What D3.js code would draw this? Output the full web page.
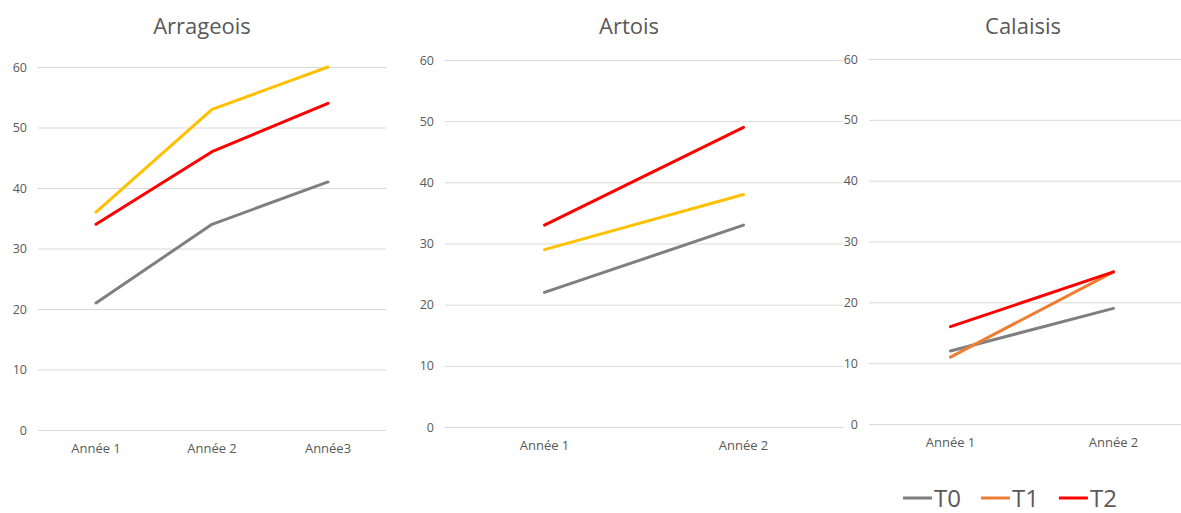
<!DOCTYPE html>
<html>
<head>
<meta charset="utf-8">
<script src="https://cdn.jsdelivr.net/npm/d3@7"></script>
<style>
  html, body { margin: 0; padding: 0; background: #fff; }
  svg { display: block; }
  text { font-family: "Open Sans", "Liberation Sans", sans-serif; }
</style>
</head>
<body>
<svg id="chart" width="1181" height="513"></svg>
<script>
// Values per region and per year
const seriesNames = ["T0", "T1", "T2"];
const yTicks = [0, 10, 20, 30, 40, 50, 60];

const arrageoisCategories = ["Année 1", "Année 2", "Année3"];
const arrageoisT0 = [21, 34, 41];
const arrageoisT1 = [36, 53, 60];
const arrageoisT2 = [34, 46, 54];

const artoisCategories = ["Année 1", "Année 2"];
const artoisT0 = [22, 33];
const artoisT1 = [29, 38];
const artoisT2 = [33, 49];

const calaisisCategories = ["Année 1", "Année 2"];
const calaisisT0 = [12, 19];
const calaisisT1 = [11, 25];
const calaisisT2 = [16, 25];

const gray = "#7f7f7f", yellow = "#ffc000", orange = "#ed7d31", red = "#ff0000";
const textColor = "#595959", gridColor = "#d9d9d9";

const panels = [
  { title: "Arrageois", categories: arrageoisCategories,
    series: [arrageoisT0, arrageoisT1, arrageoisT2], colors: [gray, yellow, red],
    x0: 38, x1: 386, yTop: 67, yBottom: 430, titleX: 202 },
  { title: "Artois", categories: artoisCategories,
    series: [artoisT0, artoisT1, artoisT2], colors: [gray, yellow, red],
    x0: 445, x1: 843, yTop: 60, yBottom: 427, titleX: 629 },
  { title: "Calaisis", categories: calaisisCategories,
    series: [calaisisT0, calaisisT1, calaisisT2], colors: [gray, orange, red],
    x0: 869, x1: 1195, yTop: 59, yBottom: 424, titleX: 1023 }
];

const svg = d3.select("#chart");

panels.forEach(p => {
  const g = svg.append("g");
  const x = d3.scaleBand().domain(p.categories).range([p.x0, p.x1]);
  const y = d3.scaleLinear().domain([0, 60]).range([p.yBottom, p.yTop]);

  // horizontal gridlines + value labels
  const yAxis = g.append("g")
    .attr("transform", `translate(${p.x0},0)`)
    .call(d3.axisLeft(y).tickValues(yTicks).tickSize(-(p.x1 - p.x0)).tickPadding(11));
  yAxis.select(".domain").remove();
  yAxis.selectAll(".tick line").attr("stroke", gridColor).attr("stroke-width", 1);
  yAxis.selectAll(".tick text")
    .attr("fill", textColor).style("font-size", "12.5px");

  // category labels
  const xAxis = g.append("g")
    .attr("transform", `translate(0,${p.yBottom})`)
    .call(d3.axisBottom(x).tickSize(0).tickPadding(14));
  xAxis.select(".domain").remove();
  xAxis.selectAll(".tick text")
    .attr("fill", textColor).style("font-size", "13px");

  // title
  g.append("text")
    .attr("x", p.titleX).attr("y", 34)
    .attr("text-anchor", "middle")
    .attr("fill", textColor)
    .style("font-size", "22px")
    .text(p.title);

  // series lines
  const line = d3.line()
    .x((d, i) => x(p.categories[i]) + x.bandwidth() / 2)
    .y(d => y(d));
  p.series.forEach((vals, si) => {
    g.append("path")
      .datum(vals)
      .attr("d", line)
      .attr("fill", "none")
      .attr("stroke", p.colors[si])
      .attr("stroke-width", 3)
      .attr("stroke-linecap", "round")
      .attr("stroke-linejoin", "round");
  });
});

// legend
const legendColors = [gray, orange, red];
const legend = svg.append("g").attr("transform", "translate(903,498)");
let lx = 0;
seriesNames.forEach((name, i) => {
  legend.append("line")
    .attr("x1", lx).attr("x2", lx + 29)
    .attr("y1", 0).attr("y2", 0)
    .attr("stroke", legendColors[i]).attr("stroke-width", 3);
  const t = legend.append("text")
    .attr("x", lx + 31).attr("y", 8.5)
    .attr("fill", textColor)
    .style("font-size", "24px")
    .text(name);
  lx += 31 + t.node().getComputedTextLength() + 20;
});
</script>
</body>
</html>
